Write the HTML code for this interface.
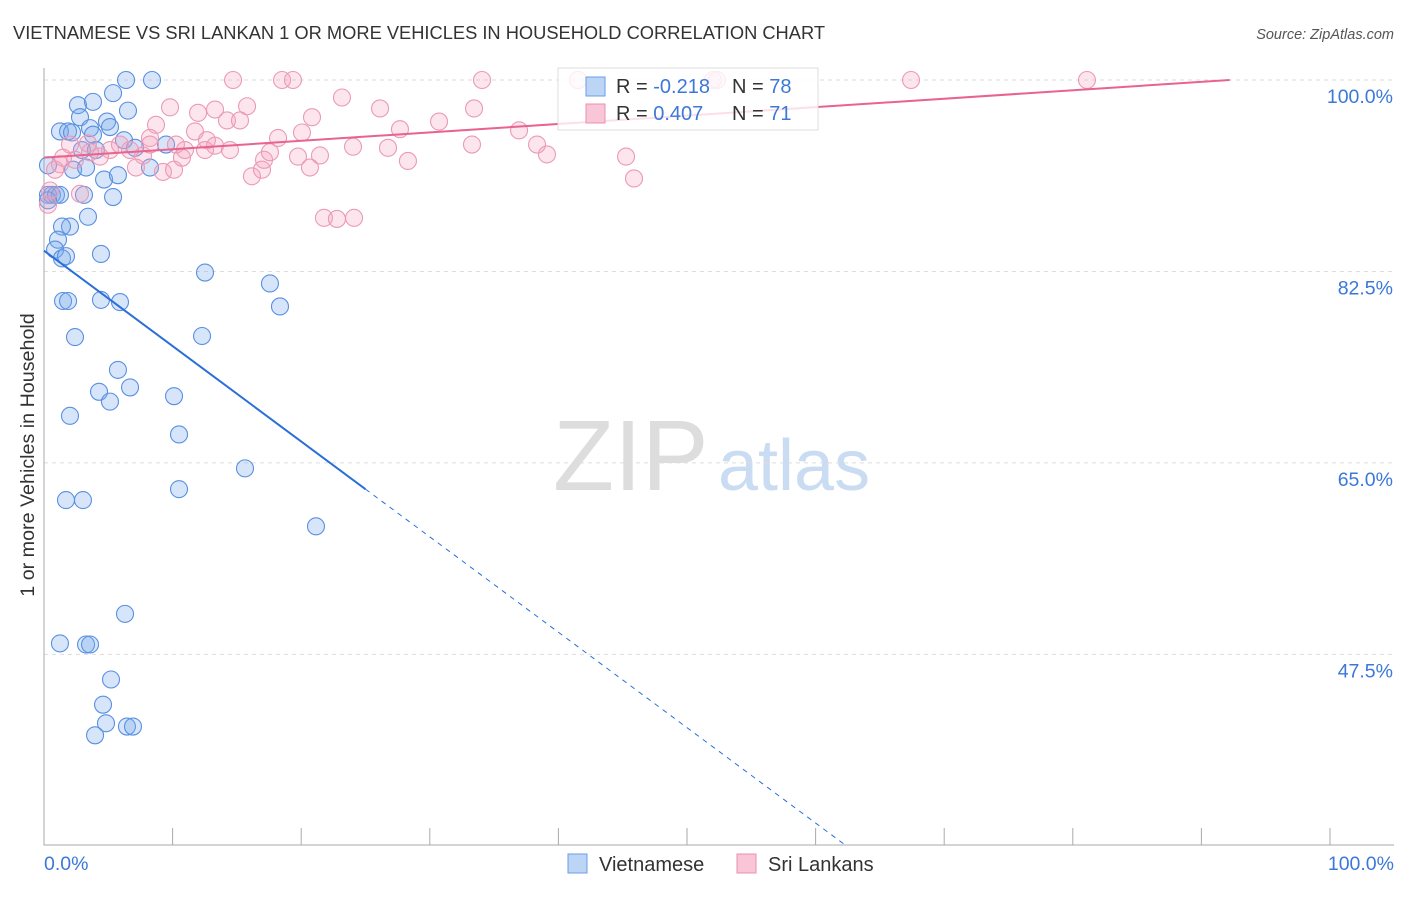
<!DOCTYPE html>
<html><head><meta charset="utf-8"><style>
body{margin:0;background:#fff;font-family:"Liberation Sans",sans-serif;}
svg text{font-family:"Liberation Sans",sans-serif;}
</style></head><body>
<svg id="chart" width="1406" height="892">
<text x="13" y="39" font-size="18.3" fill="#333">VIETNAMESE VS SRI LANKAN 1 OR MORE VEHICLES IN HOUSEHOLD CORRELATION CHART</text>
<text x="1394" y="39" font-size="14.5" fill="#555" font-style="italic" text-anchor="end">Source: ZipAtlas.com</text>
<g><text x="553" y="490" font-size="100" fill="#ddd" font-family="Liberation Serif,serif">ZIP</text><text x="718" y="490" font-size="72" fill="#c9dcf2">atlas</text></g>
<g id="grid"></g><g id="axes"></g><g id="pts"></g><g id="lines"></g>
<text transform="translate(34,455) rotate(-90)" font-size="19.7" fill="#333" text-anchor="middle">1 or more Vehicles in Household</text>
<text x="44" y="870" font-size="19.5" fill="#3b78d8">0.0%</text>
<text x="1394" y="870" font-size="19.5" fill="#3b78d8" text-anchor="end">100.0%</text>
<g>
<rect x="558" y="68" width="260" height="62" fill="#fff" fill-opacity="0.8" stroke="#ddd"/>
<rect x="586" y="77" width="19" height="19" fill="#bcd5f5" stroke="#6a9ee8"/>
<text x="616" y="93" font-size="20" fill="#333">R = <tspan fill="#3b78d8">-0.218</tspan><tspan x="732">N = </tspan><tspan fill="#3b78d8">78</tspan></text>
<rect x="586" y="104" width="19" height="19" fill="#f8c6d6" stroke="#ec8fae"/>
<text x="616" y="120" font-size="20" fill="#333">R = <tspan fill="#3b78d8"> 0.407</tspan><tspan x="732">N = </tspan><tspan fill="#3b78d8">71</tspan></text>
</g>
<g>
<rect x="568" y="854" width="19" height="19" fill="#bcd5f5" stroke="#6a9ee8"/>
<text x="599" y="871" font-size="20" fill="#333">Vietnamese</text>
<rect x="737" y="854" width="19" height="19" fill="#f8c6d6" stroke="#ec8fae"/>
<text x="768" y="871" font-size="20" fill="#333">Sri Lankans</text>
</g>
</svg>
<script>
const yTicks=[100,82.5,65,47.5];
const yTickLabels=["100.0%","82.5%","65.0%","47.5%"];
const xTicks=[0,10,20,30,40,50,60,70,80,90,100];
const blueX=[6.38,8.40,2.64,3.81,5.37,6.53,1.24,1.87,2.18,2.80,3.58,3.81,4.90,5.13,6.22,9.49,8.24,2.95,2.26,3.27,4.67,5.75,5.37,0.31,0.62,0.93,1.24,3.11,3.42,2.02,1.40,1.09,0.86,1.40,1.71,4.43,12.52,17.57,1.48,1.87,4.43,5.91,18.35,2.41,12.29,5.75,4.28,6.69,5.13,10.11,2.02,10.50,15.63,1.71,3.03,10.50,21.15,6.30,1.24,3.27,3.58,5.21,4.59,4.82,3.97,6.45,6.92,0.31,0.31,4.04,7.08];
const blueY=[100,100,97.7,98.0,98.8,97.2,95.3,95.3,95.2,96.6,95.6,95.0,96.2,95.7,94.5,94.1,92.0,93.6,91.8,92.0,90.9,91.3,89.3,89.5,89.5,89.5,89.5,89.5,87.5,86.6,86.6,85.4,84.5,83.7,83.9,84.1,82.4,81.4,79.8,79.8,79.9,79.7,79.3,76.5,76.6,73.5,71.5,71.9,70.6,71.1,69.3,67.6,64.5,61.6,61.6,62.6,59.2,51.2,48.5,48.4,48.4,45.2,42.9,41.2,40.1,40.9,40.9,92.2,89.0,93.6,93.8];
const pinkX=[14.70,18.51,19.36,34.06,41.52,52.02,52.33,67.42,81.10,9.80,11.98,15.79,23.17,26.13,33.44,8.71,14.23,15.24,20.84,27.68,30.72,36.94,11.74,8.24,7.70,12.67,13.30,10.26,18.20,20.06,24.03,26.75,33.28,38.34,39.11,45.26,45.88,7.15,9.25,10.11,10.73,16.17,16.95,17.11,17.57,19.75,21.46,20.68,28.30,21.77,22.78,24.11,5.13,4.35,3.58,2.41,1.24,0.86,0.47,0.31,2.80,5.91,6.69,2.02,3.42,1.48,13.30,8.24,10.96,14.46,12.52];
const pinkY=[100,100,100,100,100,100,100,100,100,97.5,97.0,97.6,98.4,97.4,97.4,95.9,96.3,96.3,96.6,95.5,96.2,95.4,95.3,94.7,93.1,94.5,94.0,94.1,94.7,95.2,93.9,93.8,94.1,94.1,93.2,93.0,91.0,92.0,91.6,91.8,92.9,91.2,91.8,92.7,93.4,93.0,93.1,92.0,92.6,87.4,87.3,87.4,93.6,93.0,93.4,92.7,92.3,91.8,89.9,88.6,89.6,94.1,93.6,94.1,94.2,92.9,97.3,94.1,93.6,93.6,93.6];
const blueTrend=[84.4,-0.872];
const pinkTrend=[92.9,0.077];
const NS="http://www.w3.org/2000/svg";
const X=v=>44+v*12.86, Y=v=>80+(100-v)*10.94;
function mk(t,a,p){const e=document.createElementNS(NS,t);for(const k in a)e.setAttribute(k,a[k]);document.getElementById(p).appendChild(e);return e;}
yTicks.forEach((t,i)=>{
 const g=mk('line',{x1:44,x2:1394,y1:Y(t),y2:Y(t),stroke:'#ddd','stroke-dasharray':'4,4'},'grid');
 
 
 const l=mk('text',{x:1393,y:Y(t)+23,'font-size':19.5,fill:'#3b78d8','text-anchor':'end'},'grid');
 l.textContent=yTickLabels[i];
 
 
});
const ax=mk('path',{d:'M44,68V845H1394',fill:'none',stroke:'#aaa'},'axes');


xTicks.forEach(t=>{
 const k=mk('line',{x1:X(t),x2:X(t),y1:828,y2:845,stroke:'#aaa'},'axes');
 
 
});
blueX.forEach((v,i)=>{
 const c=mk('circle',{cx:X(v),cy:Y(blueY[i]),r:8.5,fill:'rgba(120,170,235,0.3)',stroke:'#5a90e0','stroke-width':1.1},'pts');
 
 
});
pinkX.forEach((v,i)=>{
 const c=mk('circle',{cx:X(v),cy:Y(pinkY[i]),r:8.5,fill:'rgba(245,160,190,0.28)',stroke:'#eb9ab6','stroke-width':1.1},'pts');
 
 
});
const bEnd=(blueTrend[0]-30.1)/(-blueTrend[1]);
const b1=mk('line',{x1:X(0),y1:Y(blueTrend[0]),x2:X(25),y2:Y(blueTrend[0]+blueTrend[1]*25),stroke:'#2a6fd8','stroke-width':2},'lines');


const b2=mk('line',{x1:X(25),y1:Y(blueTrend[0]+blueTrend[1]*25),x2:X(bEnd),y2:Y(30.1),stroke:'#2a6fd8','stroke-width':1,'stroke-dasharray':'5,5'},'lines');


const pEnd=(100-pinkTrend[0])/pinkTrend[1];
const p1=mk('line',{x1:X(0),y1:Y(pinkTrend[0]),x2:X(pEnd),y2:Y(100),stroke:'#e8638e','stroke-width':2},'lines');


</script>
</body></html>
